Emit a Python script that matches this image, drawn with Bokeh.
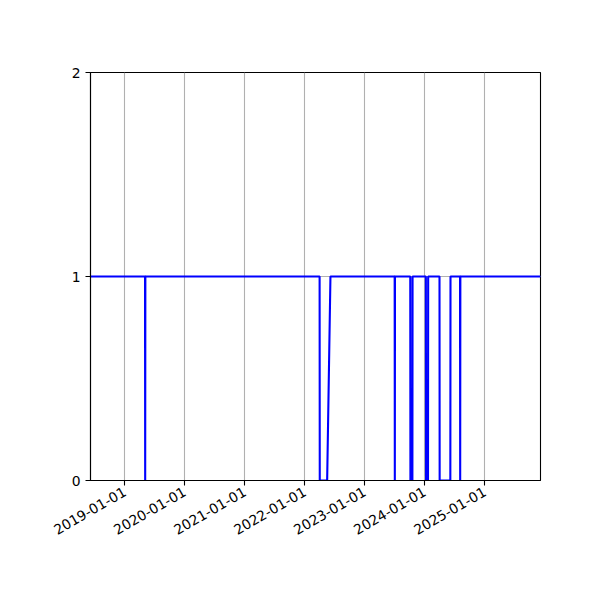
import math
import pandas as pd
from bokeh.plotting import figure
from bokeh.models import FixedTicker, DatetimeTickFormatter, Range1d
from bokeh.embed import file_html
from bokeh.resources import INLINE

# ---- data ----
dates = [
    "2018-06-06", "2019-05-04", "2019-05-05", "2019-05-06",
    "2022-04-01", "2022-04-02", "2022-05-17", "2022-06-06",
    "2023-07-02", "2023-07-03", "2023-07-04",
    "2023-10-05", "2023-10-06", "2023-10-18", "2023-10-19",
    "2024-01-08", "2024-01-09", "2024-01-21", "2024-01-22",
    "2024-03-31", "2024-04-01", "2024-06-05", "2024-06-06",
    "2024-08-03", "2024-08-04", "2024-08-05",
    "2025-12-06",
]
values = [
    1, 1, 0, 1,
    1, 0, 0, 1,
    1, 0, 1,
    1, 0, 0, 1,
    1, 0, 0, 1,
    1, 0, 0, 1,
    1, 0, 1,
    1,
]
tick_labels = ["2019-01-01", "2020-01-01", "2021-01-01", "2022-01-01",
               "2023-01-01", "2024-01-01", "2025-01-01"]
y_ticks = [0, 1, 2]

x = pd.to_datetime(dates)
tick_ms = [pd.Timestamp(t).value / 1e6 for t in tick_labels]

p = figure(
    x_axis_type="datetime",
    frame_width=450, frame_height=408,
    min_border_left=90, min_border_top=72,
    min_border_right=60, min_border_bottom=120,
    output_backend="svg", toolbar_location=None,
    x_range=Range1d(x.min(), x.max()),
    y_range=Range1d(0, 2),
)
p.background_fill_color = "white"
p.border_fill_color = "white"
p.outline_line_color = "black"
p.outline_line_width = 1.1

p.line(x, values, line_color="blue", line_width=2.1)

p.xaxis.ticker = FixedTicker(ticks=tick_ms)
fmt = "%Y-%m-%d"
p.xaxis.formatter = DatetimeTickFormatter(
    milliseconds=fmt, seconds=fmt, minsec=fmt, minutes=fmt, hourmin=fmt,
    hours=fmt, days=fmt, months=fmt, years=fmt)
p.xaxis.major_label_orientation = math.pi / 6
p.yaxis.ticker = FixedTicker(ticks=y_ticks)

for ax in (p.xaxis, p.yaxis):
    ax.axis_line_color = "black"
    ax.axis_line_width = 1.1
    ax.major_tick_line_color = "black"
    ax.major_tick_line_width = 1.1
    ax.major_tick_out = 5
    ax.major_tick_in = 0
    ax.minor_tick_line_color = None
    ax.major_label_text_color = "black"
    ax.major_label_text_font = "DejaVu Sans"
    ax.major_label_text_font_size = "13.9px"
    ax.major_label_standoff = 5

p.xgrid.ticker = FixedTicker(ticks=tick_ms)
p.ygrid.ticker = FixedTicker(ticks=y_ticks)
for g in (p.xgrid, p.ygrid):
    g.grid_line_color = "#b0b0b0"
    g.grid_line_width = 1.1

open("out.html", "w").write(file_html(p, INLINE))
